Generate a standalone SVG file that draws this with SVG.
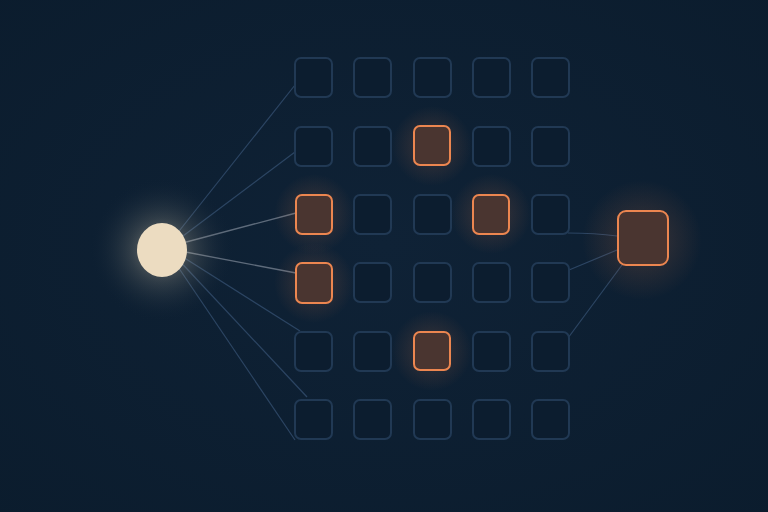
<svg xmlns="http://www.w3.org/2000/svg" width="768" height="512" viewBox="0 0 768 512">
  <defs>
    <radialGradient id="bg" cx="50%" cy="48%" r="75%">
      <stop offset="0" stop-color="#0f2236"/>
      <stop offset="1" stop-color="#0b1c2d"/>
    </radialGradient>
    <radialGradient id="sunGlow" cx="50%" cy="50%" r="50%">
      <stop offset="0" stop-color="#f2e2c4" stop-opacity="0.5"/>
      <stop offset="0.45" stop-color="#c9bda4" stop-opacity="0.18"/>
      <stop offset="1" stop-color="#0f2236" stop-opacity="0"/>
    </radialGradient>
    <radialGradient id="hotGlow" cx="50%" cy="50%" r="50%">
      <stop offset="0" stop-color="#e8804a" stop-opacity="0.22"/>
      <stop offset="1" stop-color="#e8804a" stop-opacity="0"/>
    </radialGradient>
  </defs>
  <style>
    .cell { fill: #0c1d2f; stroke: #21395400; stroke: #213954; stroke-width: 2; }
    .hot { fill: #4a3530; stroke: #ec8650; stroke-width: 2; }
    .link { stroke: #2c4563; stroke-width: 1.2; fill: none; }
    .linkHot { stroke: #5e6b7b; stroke-width: 1.4; fill: none; }
  </style>
  <rect width="768" height="512" fill="url(#bg)"/>

  <g id="connectors">
    <line class="link" x1="172" y1="240" x2="295" y2="85"/>
    <line class="link" x1="175" y1="242" x2="295" y2="152"/>
    <line class="linkHot" x1="175" y1="245" x2="296" y2="213"/>
    <line class="linkHot" x1="175" y1="250" x2="296" y2="273"/>
    <line class="link" x1="175" y1="252" x2="300" y2="331"/>
    <line class="link" x1="174" y1="255" x2="307" y2="397"/>
    <line class="link" x1="172" y1="258" x2="295" y2="440"/>
    <path class="link" d="M568 233 Q595 233 617 236"/>
    <line class="link" x1="569" y1="270" x2="617" y2="250"/>
    <line class="link" x1="568" y1="338" x2="622" y2="265"/>
  </g>

  <g id="source">
    <circle cx="162" cy="250" r="72" fill="url(#sunGlow)"/>
    <ellipse cx="162" cy="250" rx="25" ry="27" fill="#ecdcc1"/>
  </g>

  <g id="grid">
    <g id="r1">
      <rect class="cell" x="295" y="58" width="37" height="39" rx="6"/>
      <rect class="cell" x="354" y="58" width="37" height="39" rx="6"/>
      <rect class="cell" x="414" y="58" width="37" height="39" rx="6"/>
      <rect class="cell" x="473" y="58" width="37" height="39" rx="6"/>
      <rect class="cell" x="532" y="58" width="37" height="39" rx="6"/>
    </g>
    <g id="r2">
      <rect class="cell" x="295" y="127" width="37" height="39" rx="6"/>
      <rect class="cell" x="354" y="127" width="37" height="39" rx="6"/>
      <circle cx="432" cy="146" r="40" fill="url(#hotGlow)"/>
      <rect class="hot" x="414" y="126" width="36" height="39" rx="6"/>
      <rect class="cell" x="473" y="127" width="37" height="39" rx="6"/>
      <rect class="cell" x="532" y="127" width="37" height="39" rx="6"/>
    </g>
    <g id="r3">
      <circle cx="314" cy="214" r="40" fill="url(#hotGlow)"/>
      <rect class="hot" x="296" y="195" width="36" height="39" rx="6"/>
      <rect class="cell" x="354" y="195" width="37" height="39" rx="6"/>
      <rect class="cell" x="414" y="195" width="37" height="39" rx="6"/>
      <circle cx="491" cy="214" r="40" fill="url(#hotGlow)"/>
      <rect class="hot" x="473" y="195" width="36" height="39" rx="6"/>
      <rect class="cell" x="532" y="195" width="37" height="39" rx="6"/>
    </g>
    <g id="r4">
      <circle cx="314" cy="283" r="40" fill="url(#hotGlow)"/>
      <rect class="hot" x="296" y="263" width="36" height="40" rx="6"/>
      <rect class="cell" x="354" y="263" width="37" height="39" rx="6"/>
      <rect class="cell" x="414" y="263" width="37" height="39" rx="6"/>
      <rect class="cell" x="473" y="263" width="37" height="39" rx="6"/>
      <rect class="cell" x="532" y="263" width="37" height="39" rx="6"/>
    </g>
    <g id="r5">
      <rect class="cell" x="295" y="332" width="37" height="39" rx="6"/>
      <rect class="cell" x="354" y="332" width="37" height="39" rx="6"/>
      <circle cx="432" cy="351" r="40" fill="url(#hotGlow)"/>
      <rect class="hot" x="414" y="332" width="36" height="38" rx="6"/>
      <rect class="cell" x="473" y="332" width="37" height="39" rx="6"/>
      <rect class="cell" x="532" y="332" width="37" height="39" rx="6"/>
    </g>
    <g id="r6">
      <rect class="cell" x="295" y="400" width="37" height="39" rx="6"/>
      <rect class="cell" x="354" y="400" width="37" height="39" rx="6"/>
      <rect class="cell" x="414" y="400" width="37" height="39" rx="6"/>
      <rect class="cell" x="473" y="400" width="37" height="39" rx="6"/>
      <rect class="cell" x="532" y="400" width="37" height="39" rx="6"/>
    </g>
  </g>

  <g id="output">
    <circle cx="642" cy="240" r="60" fill="url(#hotGlow)"/>
    <rect class="hot" x="618" y="211" width="50" height="54" rx="8" stroke-width="2.2" fill="#4f3a31"/>
  </g>
</svg>
